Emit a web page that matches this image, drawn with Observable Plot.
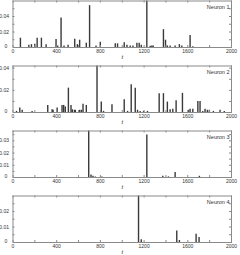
<!DOCTYPE html>
<html>
<head>
<meta charset="utf-8">
<script src="https://cdn.jsdelivr.net/npm/d3@7"></script>
<script src="https://cdn.jsdelivr.net/npm/@observablehq/plot@0.6"></script>
<style>
  html, body { margin: 0; padding: 0; background: white; }
  #chart { width: 240px; height: 255px; overflow: hidden; }
  #chart svg { display: block; }
</style>
</head>
<body>
<div id="chart"></div>
<script>
// ---- data (spike times t and amplitudes) ----
const neuron1T = [68,145,169,199,221,260,303,394,409,440,467,504,565,589,610,671,701,760,799,936,957,
                  1018,1043,1073,1098,1134,1155,1174,1225,1256,1271,1283,1377,1396,1413,1438,1484,1523,1545,1621,1646];
const neuron1V = [0.012,0.003,0.0037,0.0042,0.012,0.012,0.0037,0.0103,0.002,0.038,0.002,0.0028,0.0106,0.0037,0.0094,0.0056,0.054,0.002,0.0069,0.0047,0.0047,
                  0.006,0.0028,0.002,0.002,0.0056,0.0056,0.0028,0.06,0.0015,0.002,0.002,0.023,0.0094,0.002,0.002,0.002,0.0037,0.002,0.0156,0.001];

const neuron2T = [32,62,84,175,318,358,367,404,449,464,479,507,531,543,562,571,610,626,641,671,769,808,829,906,
                  1018,1049,1082,1119,1140,1164,1195,1231,1338,1377,1413,1438,1463,1493,1551,1606,1621,1646,1692,1712,1737,1758,1779,1797,1834,1895,1934];
const neuron2V = [0.001,0.004,0.002,0.001,0.0064,0.0025,0.002,0.004,0.0064,0.0064,0.005,0.022,0.0064,0.0025,0.002,0.002,0.002,0.002,0.0075,0.0064,0.042,0.0094,0.001,0.007,
                  0.0115,0.001,0.025,0.022,0.002,0.001,0.001,0.001,0.017,0.017,0.0094,0.0025,0.003,0.0106,0.0173,0.002,0.003,0.003,0.010,0.010,0.001,0.003,0.002,0.002,0.001,0.002,0.001];

const neuron3T = [693,714,732,753,814,1225,1371,1423,1484,1706];
const neuron3V = [0.038,0.002,0.001,0.0005,0.0005,0.0347,0.001,0.0005,0.004,0.001];

const neuron4T = [1149,1174,1499,1523,1676,1703];
const neuron4V = [0.03,0.0017,0.0075,0.0013,0.0054,0.0032];

const panelNames = ["Neuron 1","Neuron 2","Neuron 3","Neuron 4"];
const yMaxes = [0.06, 0.042, 0.038, 0.03];
const yTickLabels = [[0.02,0.04],[0.02,0.04],[0.01,0.02,0.03],[0.01,0.02]];
const yMinorSteps = [0.01, 0.01, 0.005, 0.005];
const xTickLabels = [0,400,800,1200,1600,2000];
const xMinorTicks = d3.range(0, 2001, 200);

const seriesT = [neuron1T, neuron2T, neuron3T, neuron4T];
const seriesV = [neuron1V, neuron2V, neuron3V, neuron4V];

// ---- layout ----
const W = 240, H = 65, mL = 12.5, mR = 9, mT = 0.5, mB = 18;
const FW = W - mL - mR, FH = H - mT - mB;
const gray = "#8a8a8a", ink = "#333";

const chart = document.getElementById("chart");
panelNames.forEach((name, i) => {
  const data = seriesT[i].map((t, j) => ({t, v: seriesV[i][j]}));
  const yMax = yMaxes[i];
  const yMinor = d3.range(yMinorSteps[i], yMax, yMinorSteps[i]);
  const fig = Plot.plot({
    width: W, height: H,
    marginLeft: mL, marginRight: mR, marginTop: mT, marginBottom: mB,
    x: {domain: [0, 2000]},
    y: {domain: [0, yMax]},
    style: {fontSize: "5px", fontFamily: "Liberation Sans, Arial, sans-serif", color: ink, background: "white", overflow: "visible"},
    marks: [
      Plot.ruleX(data, {x: "t", y1: 0, y2: "v", stroke: "#3a3a3a", strokeWidth: 1.4}),
      Plot.tickX(xMinorTicks, {x: d => d, insetTop: FH - 2, stroke: gray}),
      Plot.tickX(xMinorTicks, {x: d => d, insetBottom: FH - 2, stroke: gray}),
      Plot.tickY(yMinor, {y: d => d, insetRight: FW - 2, stroke: gray}),
      Plot.tickY(yMinor, {y: d => d, insetLeft: FW - 2, stroke: gray}),
      Plot.frame({stroke: gray}),
      Plot.axisX({ticks: xTickLabels, tickSize: 0, tickPadding: 1.5, label: null, tickFormat: d => String(d)}),
      Plot.axisY({ticks: yTickLabels[i], tickSize: 0, tickPadding: 4, label: null, tickFormat: d => String(d)}),
      Plot.text(["0"], {frameAnchor: "bottom-left", dx: -8.5, dy: -1, lineAnchor: "middle", fill: ink}),
      Plot.text([name], {frameAnchor: "top-right", dx: -2, dy: 6, lineAnchor: "middle", textAnchor: "end", fontSize: 5.5, fill: ink}),
      Plot.text(["t"], {frameAnchor: "bottom", dy: 10, lineAnchor: "middle", fontStyle: "italic", fontSize: 6, fill: ink})
    ]
  });
  chart.appendChild(fig);
});
</script>
</body>
</html>
